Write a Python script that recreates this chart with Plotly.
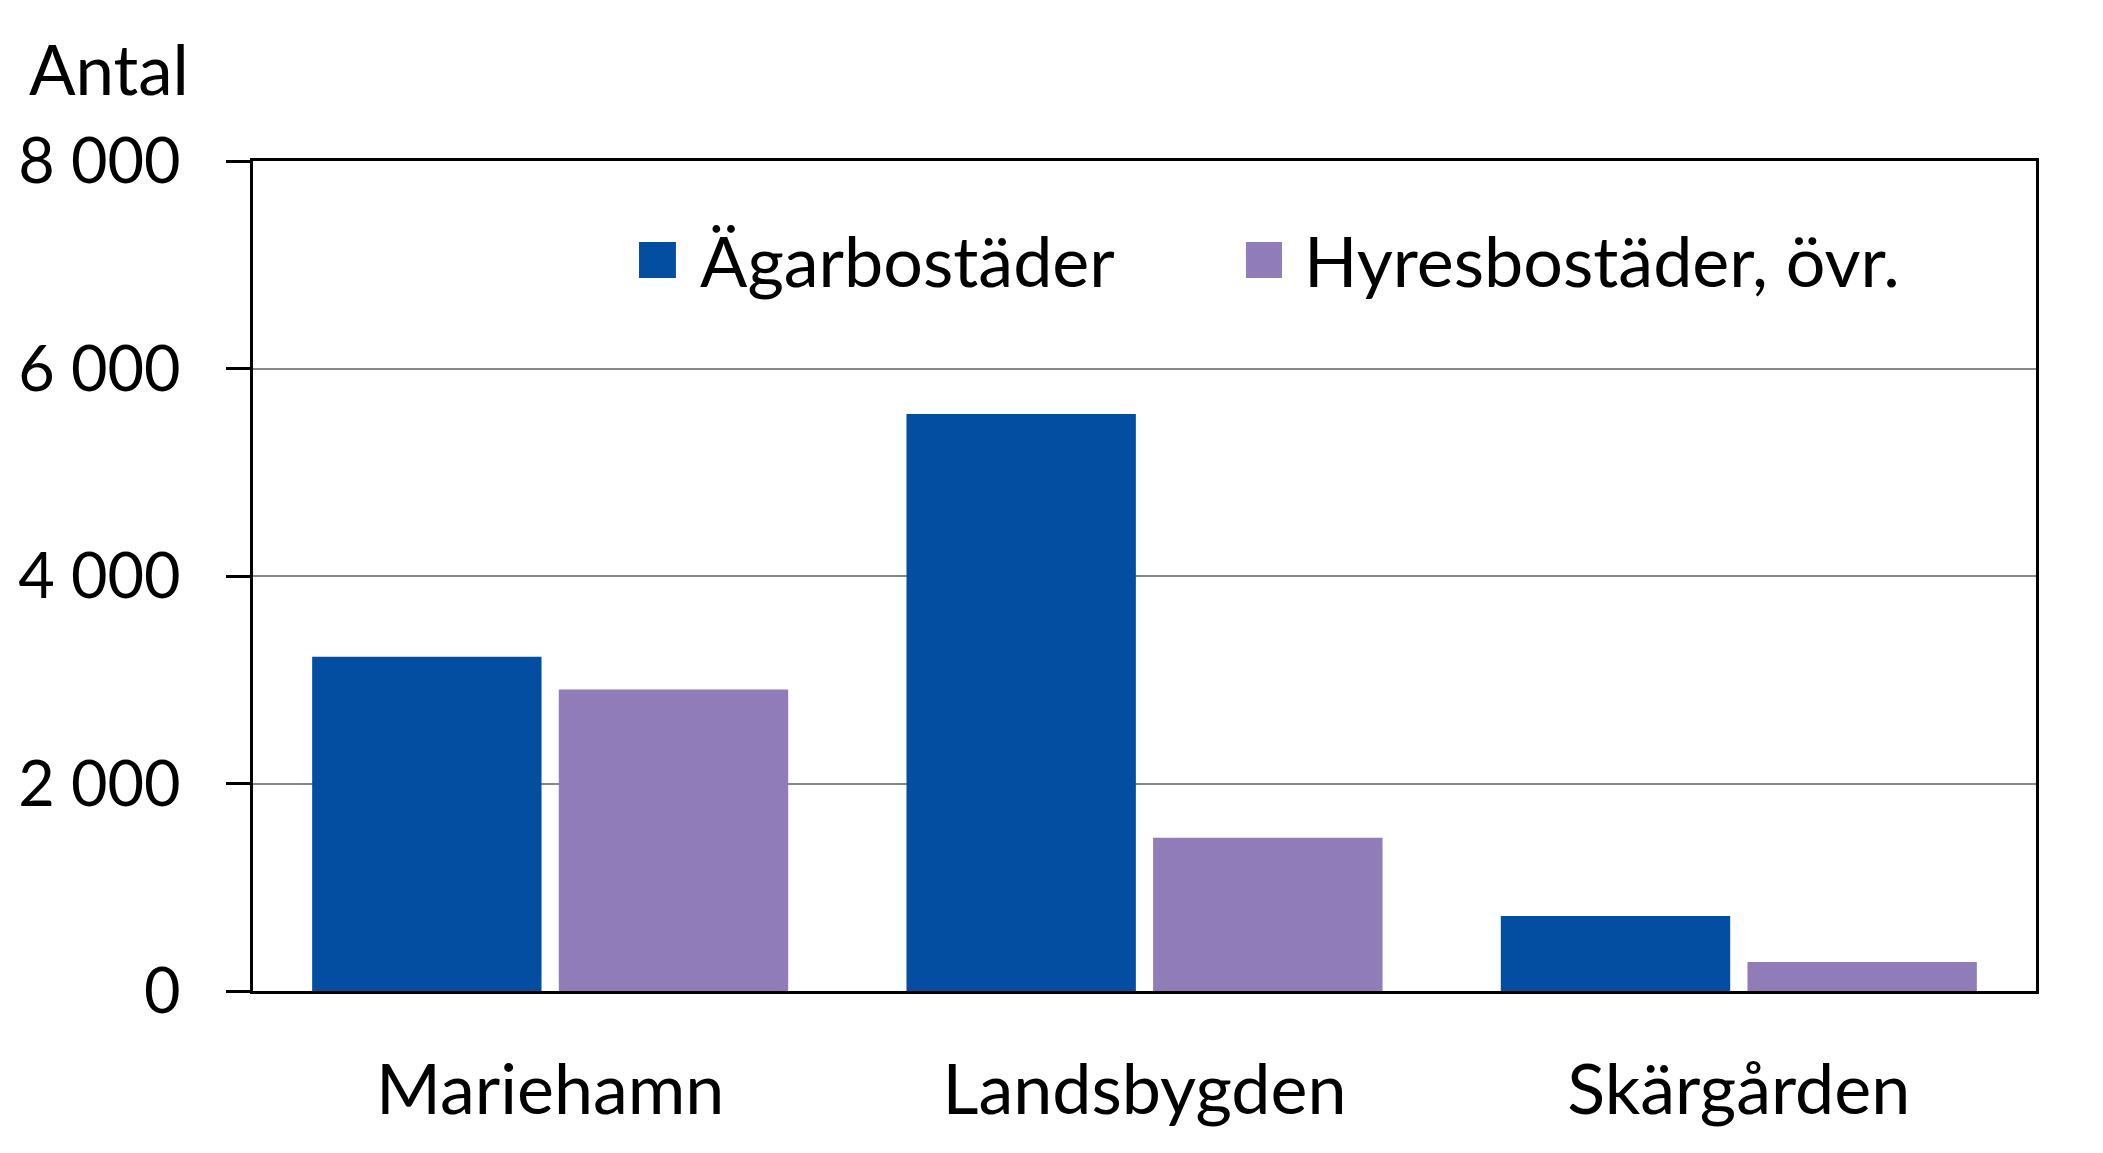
import plotly.graph_objects as go

# data
categories = ["Mariehamn", "Landsbygden", "Skärgården"]
series_names = ["Ägarbostäder", "Hyresbostäder, övr."]
agar = [3222, 5561, 722]
hyres = [2907, 1476, 279]
series_values = [agar, hyres]
colors = ["#044EA2", "#907CB8"]
y_ticks = [0, 2000, 4000, 6000, 8000]

FONT = "Lato"

fig = go.Figure()
for name, vals, col in zip(series_names, series_values, colors):
    fig.add_trace(go.Bar(
        x=categories,
        y=vals,
        name=name,
        marker=dict(color=col, line=dict(width=0)),
        showlegend=False,
    ))

# custom legend (large squares like the original)
legend_pos = [(0.2165, 0.2372, 0.2496), (0.5569, 0.5771, 0.5883)]
for (x0, x1, xt), name, col in zip(legend_pos, series_names, colors):
    fig.add_shape(type="rect", xref="paper", yref="paper",
                  x0=x0, x1=x1, y0=0.859, y1=0.9024,
                  fillcolor=col, line=dict(width=0))
    fig.add_annotation(text=name, xref="paper", yref="paper",
                       x=xt, y=0.8807, xanchor="left", yanchor="middle",
                       showarrow=False, font=dict(size=70, color="black", family=FONT))

fig.add_annotation(text="Antal", xref="paper", yref="paper",
                   x=-0.081, y=1.112, xanchor="center", yanchor="middle",
                   showarrow=False, font=dict(size=69, color="black", family=FONT))

fig.update_layout(
    width=2103,
    height=1153,
    margin=dict(l=245, r=75, t=153, b=170),
    paper_bgcolor="white",
    plot_bgcolor="white",
    barmode="group",
    bargap=0.17,
    bargroupgap=0.07,
    separators=", ",
    font=dict(family=FONT, size=63, color="black"),
    xaxis=dict(
        automargin=False,
        showline=True, linecolor="black", linewidth=2.5, mirror=True,
        ticks="", showgrid=False,
        ticklabelstandoff=36,
        tickfont=dict(size=70),
    ),
    yaxis=dict(
        automargin=False,
        range=[0, 8000],
        tickvals=y_ticks,
        tickformat=",",
        showline=True, linecolor="black", linewidth=2.5, mirror=True,
        ticks="outside", ticklen=24, tickwidth=2.5, tickcolor="black",
        showgrid=True, gridcolor="#888888", gridwidth=1.5,
        zeroline=False,
        ticklabelstandoff=33,
        tickfont=dict(size=63),
    ),
)

fig.write_html("out.html")
